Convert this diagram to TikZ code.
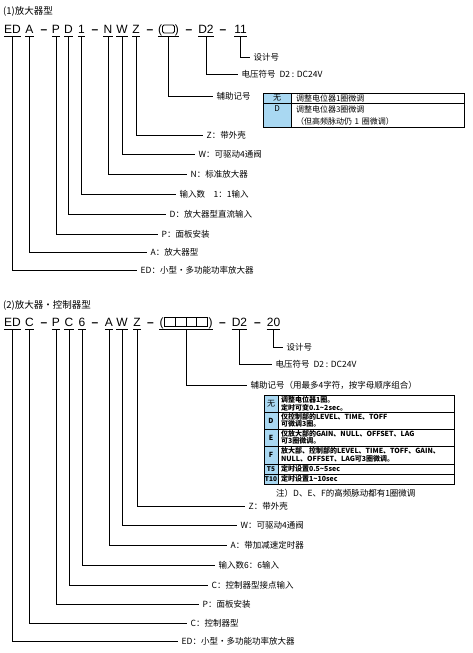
\documentclass[tikz,border=0pt]{standalone}
\usepackage{fontspec}
\setmainfont{Noto Sans CJK SC}
\newfontfamily\codefont{Liberation Sans}
\usetikzlibrary{positioning,calc}
\definecolor{keyblue}{HTML}{A9D8F2}

\begin{document}
\begin{tikzpicture}[x=1pt, y=-1pt,
  uline/.style={line width=0.8pt},
  lead/.style={line width=0.9pt},
  code/.style={font=\codefont\fontsize{12}{12}\selectfont, anchor=base,
               inner xsep=0pt, inner ysep=2.3pt, text depth=0pt,
               append after command={(\tikzlastnode.south west) edge[uline] (\tikzlastnode.south east)}},
  hyph/.style={font=\codefont\bfseries\fontsize{12}{12}\selectfont, anchor=base, inner sep=0pt},
  lab/.style={anchor=west, inner xsep=3.5pt, inner ysep=1pt, font=\fontsize{8.5}{10}\selectfont},
  title/.style={anchor=west, inner sep=0pt, font=\fontsize{9.5}{11}\selectfont},
  keycell/.style={draw, fill=keyblue, line width=0.7pt, inner sep=0pt, outer sep=0pt,
                  align=center, font=\fontsize{8}{12}\selectfont},
  desccell/.style={draw, line width=0.7pt, inner xsep=5pt, inner ysep=0pt, outer sep=0pt,
                   text width=163pt, align=left, font=\fontsize{8}{12}\selectfont},
  smallkey/.style={keycell, minimum width=14pt, font=\bfseries\fontsize{6.5}{7.5}\selectfont},
  smalldesc/.style={desccell, inner xsep=3pt, text width=170pt, font=\bfseries\fontsize{7}{7.6}\selectfont}
]
  \useasboundingbox (0,0) rectangle (473,653);

  % (1) amplifier type
  \node[title] (sec1) at (3,11) {(1)放大器型};
  \node[code] (ed1) at (12.5,33.5) {ED};
  \node[code] (a1) at (29.5,33.5) {A};
  \node[hyph] (hy11) at (44,33.5) {–};
  \node[code] (p1) at (56,33.5) {P};
  \node[code] (d1) at (68.5,33.5) {D};
  \node[code] (one1) at (81.5,33.5) {1};
  \node[hyph] (hy12) at (95,33.5) {–};
  \node[code] (n1) at (108,33.5) {N};
  \node[code] (w1) at (122,33.5) {W};
  \node[code] (z1) at (136,33.5) {Z};
  \node[hyph] (hy13) at (150,33.5) {–};
  \node[code] (aux1) at (168.5,33.5) {(\hspace{13pt})};
  \draw[uline, rounded corners=1.5pt] ($(aux1.base)+(-6,-8.5)$) rectangle ($(aux1.base)+(6,-0.5)$);
  \node[hyph] (hy14) at (189,33.5) {–};
  \node[code] (dtwo1) at (206,33.5) {D2};
  \node[hyph] (hy15) at (223,33.5) {–};
  \node[code] (des1) at (240.5,33.5) {11};

  \node[lab] (deslab1) at (250,57) {设计号};
  \node[lab] (dtwolab1) at (238,74.5) {电压符号\ \ D2 : DC24V};
  \node[lab] (auxlab1) at (213,96) {辅助记号};
  \node[lab] (zlab1) at (203,135.5) {Z：带外壳};
  \node[lab] (wlab1) at (195,154.5) {W：可驱动4通阀};
  \node[lab] (nlab1) at (187,174.5) {N：标准放大器};
  \node[lab] (onelab1) at (176,194.5) {输入数\quad 1：1输入};
  \node[lab] (dlab1) at (166,214.5) {D：放大器型直流输入};
  \node[lab] (plab1) at (158,234) {P：面板安装};
  \node[lab] (alab1) at (147,252.5) {A：放大器型};
  \node[lab] (edlab1) at (137,270) {ED：小型・多功能功率放大器};

  \draw[lead] (des1.south) |- (deslab1.west);
  \draw[lead] (dtwo1.south) |- (dtwolab1.west);
  \draw[lead] (aux1.south) |- (auxlab1.west);
  \draw[lead] (z1.south) |- (zlab1.west);
  \draw[lead] (w1.south) |- (wlab1.west);
  \draw[lead] (n1.south) |- (nlab1.west);
  \draw[lead] (one1.south) |- (onelab1.west);
  \draw[lead] (d1.south) |- (dlab1.west);
  \draw[lead] (p1.south) |- (plab1.west);
  \draw[lead] (a1.south) |- (alab1.west);
  \draw[lead] (ed1.south) |- (edlab1.west);

  % auxiliary code table (1)
  \node[keycell, minimum width=28pt, minimum height=10pt, anchor=north west] (auxkey11) at (263,93) {无};
  \node[desccell, minimum height=10pt, right=0pt of auxkey11] (auxdesc11) {调整电位器1圈微调};
  \node[keycell, minimum width=28pt, minimum height=24pt, below=0pt of auxkey11] (auxkey12) {D\\\phantom{D}};
  \node[desccell, minimum height=24pt, right=0pt of auxkey12] (auxdesc12) {调整电位器3圈微调\\（但高频脉动仍 1 圈微调）};

  % (2) amplifier + controller type
  \node[title] (sec2) at (3,305) {(2)放大器・控制器型};
  \node[code] (ed2) at (12.5,326.8) {ED};
  \node[code] (c2) at (29.5,326.8) {C};
  \node[hyph] (hy21) at (44,326.8) {–};
  \node[code] (p2) at (56,326.8) {P};
  \node[code] (cc2) at (69,326.8) {C};
  \node[code] (six2) at (82,326.8) {6};
  \node[hyph] (hy22) at (95,326.8) {–};
  \node[code] (a2) at (109,326.8) {A};
  \node[code] (w2) at (122,326.8) {W};
  \node[code] (z2) at (137,326.8) {Z};
  \node[hyph] (hy23) at (150.5,326.8) {–};
  \node[code] (aux2) at (186,326.8) {(\hspace{45pt})};
  \draw[uline] ($(aux2.base)+(-21.5,-9)$) rectangle ($(aux2.base)+(21.5,0)$);
  \draw[uline] ($(aux2.base)+(-10.75,-9)$) -- ($(aux2.base)+(-10.75,0)$);
  \draw[uline] ($(aux2.base)+(0,-9)$) -- ($(aux2.base)+(0,0)$);
  \draw[uline] ($(aux2.base)+(10.75,-9)$) -- ($(aux2.base)+(10.75,0)$);
  \node[hyph] (hy24) at (222.5,326.8) {–};
  \node[code] (dtwo2) at (239.5,326.8) {D2};
  \node[hyph] (hy25) at (257.5,326.8) {–};
  \node[code] (des2) at (273.5,326.8) {20};

  \node[lab] (deslab2) at (283,347) {设计号};
  \node[lab] (dtwolab2) at (272,364) {电压符号\ \ D2 : DC24V};
  \node[lab] (auxlab2) at (247,385) {辅助记号（用最多4字符，按字母顺序组合）};
  \node[lab] (zlab2) at (245,506) {Z：带外壳};
  \node[lab] (wlab2) at (237,525) {W：可驱动4通阀};
  \node[lab] (alab2) at (227,545) {A：带加减速定时器};
  \node[lab] (sixlab2) at (215,565) {输入数6：6输入};
  \node[lab] (cclab2) at (208,585) {C：控制器型接点输入};
  \node[lab] (plab2) at (199,604.5) {P：面板安装};
  \node[lab] (clab2) at (187,623) {C：控制器型};
  \node[lab] (edlab2) at (178,641) {ED：小型・多功能功率放大器};

  \draw[lead] (des2.south) |- (deslab2.west);
  \draw[lead] (dtwo2.south) |- (dtwolab2.west);
  \draw[lead] (aux2.south) |- (auxlab2.west);
  \draw[lead] (z2.south) |- (zlab2.west);
  \draw[lead] (w2.south) |- (wlab2.west);
  \draw[lead] (a2.south) |- (alab2.west);
  \draw[lead] (six2.south) |- (sixlab2.west);
  \draw[lead] (cc2.south) |- (cclab2.west);
  \draw[lead] (p2.south) |- (plab2.west);
  \draw[lead] (c2.south) |- (clab2.west);
  \draw[lead] (ed2.south) |- (edlab2.west);

  % auxiliary code table (2)
  \node[smallkey, minimum height=17pt, anchor=north west, font=\fontsize{8}{9}\selectfont] (auxkey21) at (264,395) {无};
  \node[smalldesc, minimum height=17pt, right=0pt of auxkey21] (auxdesc21) {调整电位器1圈。\\定时可变0.1\textasciitilde 2sec。};
  \node[smallkey, minimum height=17pt, below=0pt of auxkey21, font=\bfseries\fontsize{7}{8}\selectfont] (auxkey22) {D};
  \node[smalldesc, minimum height=17pt, right=0pt of auxkey22] (auxdesc22) {仅控制部的LEVEL、TIME、TOFF\\可微调3圈。};
  \node[smallkey, minimum height=17pt, below=0pt of auxkey22, font=\bfseries\fontsize{7}{8}\selectfont] (auxkey23) {E};
  \node[smalldesc, minimum height=17pt, right=0pt of auxkey23] (auxdesc23) {仅放大部的GAIN、NULL、OFFSET、LAG\\可3圈微调。};
  \node[smallkey, minimum height=18pt, below=0pt of auxkey23, font=\bfseries\fontsize{7}{8}\selectfont] (auxkey24) {F};
  \node[smalldesc, minimum height=18pt, right=0pt of auxkey24] (auxdesc24) {放大部、控制部的LEVEL、TIME、TOFF、GAIN、\\NULL、OFFSET、LAG可3圈微调。};
  \node[smallkey, minimum height=10.5pt, below=0pt of auxkey24] (auxkey25) {T5};
  \node[smalldesc, minimum height=10.5pt, right=0pt of auxkey25] (auxdesc25) {定时设置0.5\textasciitilde 5sec};
  \node[smallkey, minimum height=9.5pt, below=0pt of auxkey25] (auxkey26) {T10};
  \node[smalldesc, minimum height=9.5pt, right=0pt of auxkey26] (auxdesc26) {定时设置1\textasciitilde 10sec};
  \node[anchor=west, inner sep=0pt, font=\fontsize{8.5}{10}\selectfont] (auxnote2) at (276,493) {注）D、E、F的高频脉动都有1圈微调};
\end{tikzpicture}
\end{document}
